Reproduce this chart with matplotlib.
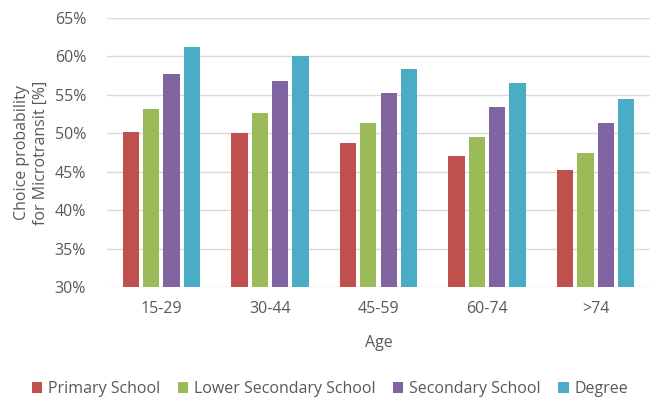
import matplotlib.pyplot as plt
import numpy as np

plt.rcParams['font.family'] = ['Open Sans', 'DejaVu Sans']

ages = ['15-29', '30-44', '45-59', '60-74', '>74']
primary = [50.2, 50.0, 48.8, 47.1, 45.2]
lower_secondary = [53.1, 52.6, 51.3, 49.5, 47.5]
secondary = [57.7, 56.8, 55.3, 53.4, 51.4]
degree = [61.2, 60.1, 58.4, 56.5, 54.5]

series = [
    ('Primary School', primary, '#C0504D'),
    ('Lower Secondary School', lower_secondary, '#9BBB59'),
    ('Secondary School', secondary, '#8064A2'),
    ('Degree', degree, '#4BACC6'),
]

text_col = '#595959'

fig = plt.figure(figsize=(6.6, 3.98), dpi=100)
ax = fig.add_axes([107 / 660, 1 - 287 / 398, 543 / 660, 269 / 398])

x = np.arange(len(ages))
pitch = 0.187
for i, (name, vals, col) in enumerate(series):
    ax.bar(x + (i - 1.5) * pitch, np.array(vals) - 30, bottom=30, width=0.15,
           color=col, label=name, zorder=3)

ax.set_xlim(-0.5, len(ages) - 0.5)
ax.set_ylim(30, 65)
ax.set_yticks(np.arange(30, 66, 5))
ax.set_yticklabels(['{}%'.format(v) for v in range(30, 66, 5)])
ax.set_xticks(x)
ax.set_xticklabels(ages)
ax.grid(axis='y', color='#D9D9D9', linewidth=1, zorder=0)
for s in ax.spines.values():
    s.set_visible(False)
ax.tick_params(length=0, colors=text_col, labelsize=11.5)
ax.tick_params(axis='y', pad=15)
ax.tick_params(axis='x', pad=10)

ax.set_xlabel('Age', color=text_col, fontsize=11.5, labelpad=13)
ax.set_ylabel('Choice probability\nfor Microtransit [%]', color=text_col,
              fontsize=11.5, labelpad=4, linespacing=1.3)

fig.legend(loc='center', bbox_to_anchor=(0.5, 1 - 389 / 398), ncol=4,
           frameon=False, fontsize=11.5, handlelength=0.65, handleheight=0.65,
           handletextpad=0.35, columnspacing=1.1, labelcolor=text_col)

fig.savefig('out.png', dpi=100)
